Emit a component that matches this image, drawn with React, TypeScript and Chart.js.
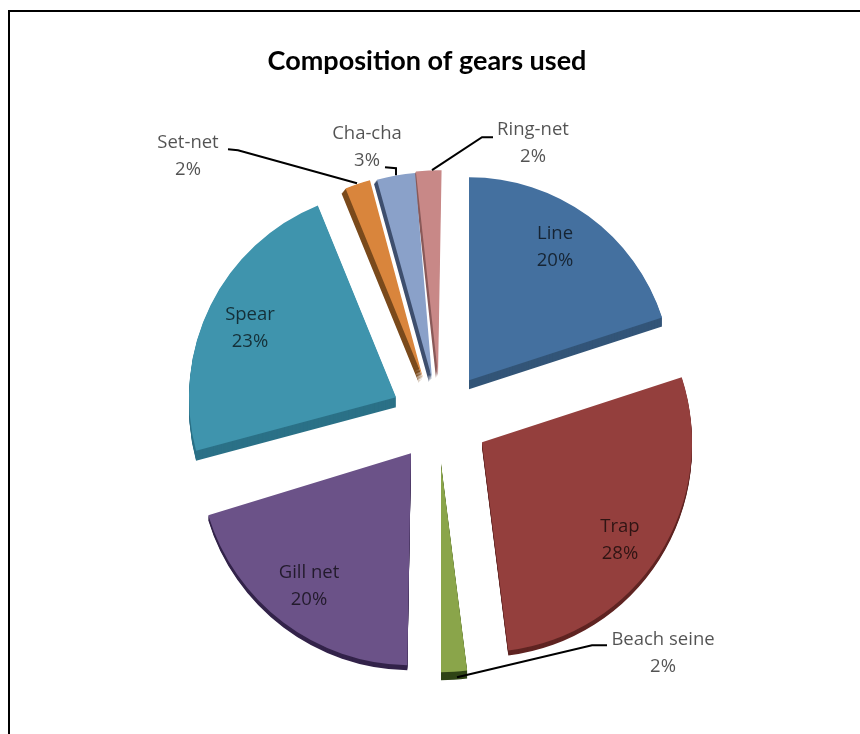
import React, { useEffect, useRef } from "react";
import { Chart, registerables } from "chart.js";

Chart.register(...registerables);

const categories = ["Line", "Trap", "Beach seine", "Gill net", "Spear", "Set-net", "Cha-cha", "Ring-net"];
const shares = [20, 28, 2, 20, 23, 2, 3, 2];

const faceColors = ["#44709f", "#943f3d", "#8aa54a", "#6b5288", "#3f94ad", "#d9853c", "#8aa1c9", "#c88887"];
const sideColors = ["#335578", "#5f2422", "#2f4416", "#33234a", "#2b7187", "#7a4a1c", "#3e4f6e", "#8a5a59"];

// How far each wedge is pulled out of the pie, in pixels.
const wedgeShift = [[29, -40], [42, 22], [1, 43], [-29, 33], [-44, -23], [-17, -42], [-8, -42], [-2, -45]];
const wedgeRadius = [203, 210, 209, 212, 207, 205, 206, 205];
// Small turn of each wedge, in degrees, imitating the tilted view of the pie.
const wedgeTurn = [0, 0, 0, 1, 3, 3, 2.5, 1];
// Extrusion vector giving each wedge its tilted edge.
const sideDepth = [[0, 9], [0, 5], [0, 8], [0, 5], [0, 10], [-4, 5], [-3, 4], [-2, 3]];

const PIE_SHIFT_X = 13;
const LABEL_FONT = "18.5px 'Open Sans'";
const LABEL_LINE_GAP = 27;

// Label centres, relative to the pie centre.
const labelOffsets = [
  [115, -186], [180, 107], [223, 220], [-131, 153], [-190, -105], [-252, -277], [-73, -286], [93, -290],
];
// Leader lines, relative to the pie centre; slices without one have an empty path.
const leaderPaths: number[][][] = [
  [], [],
  [[167, 225], [152, 225], [17, 257]],
  [], [],
  [[-212, -271], [-202, -270], [-83, -237]],
  [[-55, -253], [-44, -252], [-44, -245]],
  [[53, -283], [42, -283], [-8, -250]],
];

const pieCentre = (chart: any) => ({
  x: (chart.chartArea.left + chart.chartArea.right) / 2 + PIE_SHIFT_X,
  y: (chart.chartArea.top + chart.chartArea.bottom) / 2,
});

const wedgeGeometry = {
  id: "wedgeGeometry",
  afterDatasetUpdate(chart: any, args: any) {
    const centre = pieCentre(chart);
    args.meta.data.forEach((arc: any, i: number) => {
      const turn = (wedgeTurn[i] * Math.PI) / 180;
      arc.x = centre.x + wedgeShift[i][0];
      arc.y = centre.y + wedgeShift[i][1];
      arc.startAngle += turn;
      arc.endAngle += turn;
      arc.outerRadius = wedgeRadius[i];
    });
  },
};

const wedgeSides = {
  id: "wedgeSides",
  beforeDatasetsDraw(chart: any) {
    const { ctx } = chart;
    chart.getDatasetMeta(0).data.forEach((arc: any, i: number) => {
      const [dx, dy] = sideDepth[i];
      const steps = Math.max(Math.abs(dx), Math.abs(dy));
      const faceOptions = arc.options;
      arc.options = { ...faceOptions, backgroundColor: sideColors[i], borderWidth: 0 };
      for (let k = steps; k >= 1; k--) {
        ctx.save();
        ctx.translate((dx * k) / steps, (dy * k) / steps);
        arc.draw(ctx);
        ctx.restore();
      }
      arc.options = faceOptions;
    });
  },
};

const sliceLabels = {
  id: "sliceLabels",
  afterDatasetsDraw(chart: any) {
    const { ctx } = chart;
    const centre = pieCentre(chart);
    ctx.save();
    ctx.font = LABEL_FONT;
    ctx.textAlign = "center";
    ctx.textBaseline = "middle";
    categories.forEach((name, i) => {
      const path = leaderPaths[i];
      if (path.length) {
        ctx.beginPath();
        path.forEach(([x, y], k) => {
          if (k === 0) ctx.moveTo(centre.x + x, centre.y + y);
          else ctx.lineTo(centre.x + x, centre.y + y);
        });
        ctx.strokeStyle = "#000";
        ctx.lineWidth = 2;
        ctx.stroke();
      }
      const [lx, ly] = labelOffsets[i];
      ctx.fillStyle = "rgba(0,0,0,0.68)";
      ctx.fillText(name, centre.x + lx, centre.y + ly);
      ctx.fillText(`${shares[i]}%`, centre.x + lx, centre.y + ly + LABEL_LINE_GAP);
    });
    ctx.restore();
  },
};

export default function App() {
  const canvasRef = useRef<HTMLCanvasElement | null>(null);

  useEffect(() => {
    const chart = new Chart(canvasRef.current as HTMLCanvasElement, {
      type: "pie",
      data: {
        labels: categories,
        datasets: [
          {
            data: shares,
            backgroundColor: faceColors,
            borderWidth: 0,
          },
        ],
      },
      options: {
        responsive: false,
        animation: false,
        layout: { padding: { left: 0, right: 6, top: 0, bottom: 17 } },
        plugins: {
          legend: { display: false },
          tooltip: { enabled: false },
          title: {
            display: true,
            text: "Composition of gears used",
            color: "#000",
            font: { family: "Lato", size: 27, weight: "bold" },
            padding: { top: 45, bottom: 46 },
          },
        },
      },
      plugins: [wedgeGeometry, wedgeSides, sliceLabels],
    });
    return () => chart.destroy();
  }, []);

  return (
    <div style={{ position: "absolute", left: 0, top: 0, width: 860, height: 734, overflow: "hidden", background: "#fff" }}>
      <canvas ref={canvasRef} width={860} height={734} style={{ position: "absolute", left: 0, top: 0 }} />
      <div
        style={{
          position: "absolute",
          left: 8,
          top: 10,
          width: 860,
          height: 734,
          borderLeft: "2px solid #000",
          borderTop: "2px solid #000",
          pointerEvents: "none",
        }}
      />
    </div>
  );
}
